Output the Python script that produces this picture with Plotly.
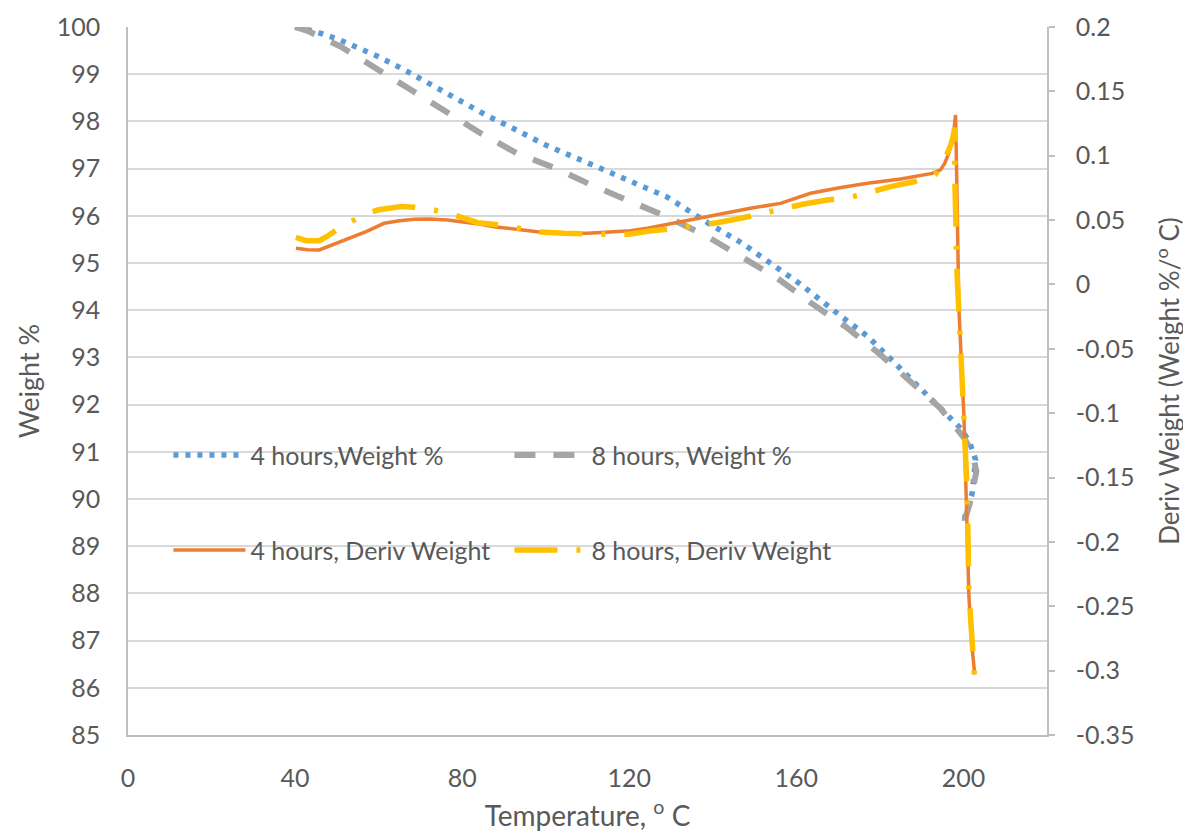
import plotly.graph_objects as go

# ---------------- data ----------------
temp_4h_wt = [40, 45, 50, 55.7, 60, 66, 72, 78, 86, 92, 100, 109, 115, 120, 125, 129,
              135, 139, 147, 154, 161, 170, 177, 183, 191, 197.3, 199.3, 201.5, 202.9,
              202.1, 200.1]
wt_4h = [100, 99.9, 99.75, 99.55, 99.37, 99.1, 98.8, 98.5, 98.12, 97.86, 97.5, 97.16,
         96.92, 96.74, 96.55, 96.4, 96.05, 95.84, 95.42, 94.99, 94.55, 93.92, 93.45,
         92.93, 92.24, 91.69, 91.5, 91.2, 90.83, 90.13, 89.55]

temp_8h_wt = [40, 43, 51, 59.7, 67.7, 76.1, 84.4, 93.2, 102.8, 111, 120.3, 129, 138.7,
              147.4, 155.4, 163.4, 171.8, 179.7, 187.3, 194.5, 200.1, 202.1, 203.1,
              202.5, 201.5, 200.3, 200.1]
wt_8h = [100, 99.92, 99.58, 99.12, 98.67, 98.21, 97.75, 97.32, 96.99, 96.65, 96.3, 95.98,
         95.56, 95.1, 94.68, 94.16, 93.65, 93.09, 92.49, 91.92, 91.3, 91.0, 90.58,
         90.26, 89.9, 89.55, 89.3]

temp_4h_dw = [40.2, 43, 45.8, 49, 52.6, 57, 61.3, 65, 68.5, 72, 76.5, 80, 84.4, 88, 92.4,
              98, 104.4, 110, 116.3, 120.3, 124.3, 128, 132.3, 138, 144.3, 149, 156.2,
              163.4, 170, 177, 185, 192.5, 194.5, 195.5, 196.5, 197.3, 197.8, 198.1,
              198.3, 198.5, 198.9, 199.5, 200.1, 200.7, 201.3, 202.0, 202.7]
dw_4h = [0.0281, 0.027, 0.0268, 0.031, 0.035, 0.041, 0.0475, 0.0495, 0.0506, 0.0508, 0.05,
         0.0488, 0.0467, 0.0447, 0.0428, 0.041, 0.0397, 0.0398, 0.041, 0.0418, 0.0436,
         0.046, 0.0488, 0.052, 0.0565, 0.0592, 0.063, 0.0708, 0.075, 0.0786, 0.082,
         0.0863, 0.089, 0.094, 0.102, 0.112, 0.122, 0.1316, 0.10, 0.05, -0.0175, -0.06,
         -0.101, -0.17, -0.242, -0.28, -0.303]

temp_8h_dw = [40.2, 42.6, 45.8, 48, 51, 54, 57.3, 60, 62.9, 65.5, 68.5, 71, 73.3, 78.1,
              83.7, 89.2, 93.5, 98, 104.4, 110, 115, 119.9, 125.5, 131.5, 136, 141, 146.7,
              152.2, 157, 161.8, 167.4, 173, 178, 182.5, 188.1, 191, 193.3, 195.2, 196.9,
              197.6, 197.9, 197.95, 198.1, 198.5, 199.3, 200.1, 200.9, 201.3, 202.0, 202.6]
dw_8h = [0.0366, 0.034, 0.034, 0.038, 0.0449, 0.050, 0.0553, 0.058, 0.0597, 0.0605, 0.06,
         0.059, 0.0578, 0.054, 0.048, 0.0462, 0.0435, 0.0408, 0.0397, 0.039, 0.039, 0.039,
         0.0418, 0.0436, 0.0455, 0.048, 0.0514, 0.0557, 0.059, 0.0625, 0.0656, 0.0677,
         0.072, 0.076, 0.0798, 0.0825, 0.0856, 0.095, 0.1076, 0.116, 0.122, 0.08, 0.03,
         0.005, -0.047, -0.104, -0.162, -0.239, -0.28, -0.303]

x_ticks = [0, 40, 80, 120, 160, 200]
y2_tickvals = [-0.35, -0.3, -0.25, -0.2, -0.15, -0.1, -0.05, 0, 0.05, 0.1, 0.15, 0.2]
y2_ticktext = ["-0.35", "-0.3", "-0.25", "-0.2", "-0.15", "-0.1", "-0.05", "0", "0.05",
               "0.1", "0.15", "0.2"]

series_names = ["4 hours,Weight %", "8 hours, Weight %",
                "4 hours, Deriv Weight", "8 hours, Deriv Weight"]

# ---------------- styling ----------------
FONT = "Lato"
TXT = "#595959"
GRID = "#d9d9d9"
AXIS = "#bfbfbf"

fig = go.Figure()
fig.add_trace(go.Scatter(x=temp_4h_wt, y=wt_4h, mode="lines", name=series_names[0],
                         line=dict(color="#5B9BD5", width=5.5, dash="5px,7px"),
                         legend="legend"))
fig.add_trace(go.Scatter(x=temp_8h_wt, y=wt_8h, mode="lines", name=series_names[1],
                         line=dict(color="#A5A5A5", width=6, dash="21px,18px"),
                         legend="legend"))
fig.add_trace(go.Scatter(x=temp_4h_dw, y=dw_4h, mode="lines", name=series_names[2],
                         yaxis="y2", line=dict(color="#ED7D31", width=3.5),
                         legend="legend2"))
fig.add_trace(go.Scatter(x=temp_8h_dw, y=dw_8h, mode="lines", name=series_names[3],
                         yaxis="y2",
                         line=dict(color="#FFC000", width=5.5, dash="43px,19px,4px,19px"),
                         legend="legend2"))

legend_common = dict(orientation="h", xanchor="left", yanchor="middle",
                     bgcolor="rgba(0,0,0,0)", font=dict(family=FONT, size=25, color=TXT),
                     entrywidth=254, entrywidthmode="pixels", itemwidth=72)

# the page body has an 8px margin, so the figure is sized/offset to compensate
fig.update_layout(
    width=1183, height=824,
    margin=dict(l=120, r=144, t=19, b=97, autoexpand=False),
    paper_bgcolor="white", plot_bgcolor="white",
    font=dict(family=FONT, color=TXT),
    legend=dict(x=0.044, y=0.395, **legend_common),
    legend2=dict(x=0.044, y=0.261, **legend_common),
    xaxis=dict(range=[0, 220], tickvals=x_ticks, showgrid=False, zeroline=False,
               automargin=False,
               showline=True, linecolor=AXIS, linewidth=1.5, ticks="",
               ticklabelstandoff=20,
               tickfont=dict(family=FONT, size=25, color=TXT),
               title=dict(text="Temperature, <sup>o</sup> C",
                          font=dict(family=FONT, size=28, color=TXT), standoff=23)),
    yaxis=dict(range=[85, 100], dtick=1, showgrid=True, gridcolor=GRID, gridwidth=1.5,
               automargin=False,
               zeroline=False, showline=True, linecolor=AXIS, linewidth=1.5, ticks="",
               ticklabelstandoff=21,
               tickfont=dict(family=FONT, size=25, color=TXT),
               title=dict(text="Weight %", font=dict(family=FONT, size=27, color=TXT),
                          standoff=9)),
    yaxis2=dict(range=[-0.35, 0.2], overlaying="y", side="right", showgrid=False,
                automargin=False,
                zeroline=False, showline=True, linecolor=AXIS, linewidth=1.5,
                tickvals=y2_tickvals, ticktext=y2_ticktext,
                ticks="outside", ticklen=6, tickcolor=AXIS, tickwidth=1.5,
                ticklabelstandoff=16,
                tickfont=dict(family=FONT, size=25, color=TXT),
                title=dict(text="Deriv Weight (Weight %/<sup>o</sup> C)",
                           font=dict(family=FONT, size=26, color=TXT), standoff=27)),
)

fig.write_html("out.html")
